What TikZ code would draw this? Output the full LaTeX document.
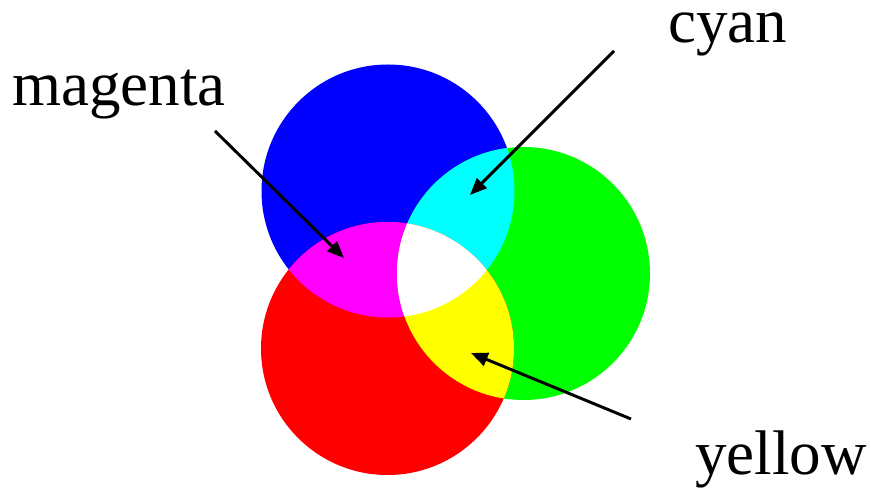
\documentclass[tikz,border=0pt]{standalone}
\usepackage{fontspec}
\setmainfont{Liberation Serif}
\definecolor{PureRed}{RGB}{255,0,0}
\definecolor{PureGreen}{RGB}{0,255,0}
\definecolor{PureBlue}{RGB}{0,0,255}
\definecolor{PureCyan}{RGB}{0,255,255}
\definecolor{PureMagenta}{RGB}{255,0,255}
\definecolor{PureYellow}{RGB}{255,255,0}
\usetikzlibrary{arrows.meta, positioning}

\begin{document}
\begin{tikzpicture}[x=0.025cm, y=-0.025cm,
    label text/.style={inner sep=0pt, font=\fontsize{44.8}{50}\selectfont},
    pointer/.style={line width=2.1pt, -{Triangle[length=0.42cm, width=0.34cm]}}]
  \useasboundingbox (0,0) rectangle (871,491);

  % the three primaries
  \coordinate (blueC)  at (388,191);
  \coordinate (greenC) at (523.5,273.5);
  \coordinate (redC)   at (387.5,348.5);
  \def\rad{126.5}

  \fill[PureBlue]  (blueC)  circle (\rad);
  \fill[PureGreen] (greenC) circle (\rad);
  \fill[PureRed]   (redC)   circle (\rad);

  % pairwise overlaps
  \begin{scope}
    \clip (blueC) circle (\rad);
    \fill[PureCyan] (greenC) circle (\rad);
    \fill[PureMagenta] (redC) circle (\rad);
  \end{scope}
  \begin{scope}
    \clip (greenC) circle (\rad);
    \fill[PureYellow] (redC) circle (\rad);
    \clip (blueC) circle (\rad);
    \fill[white] (redC) circle (\rad);
  \end{scope}

  % labels
  \node[label text, anchor=base west] (magentaLbl) at (12,106) {magenta};
  \node[label text, anchor=base west, text height=1ex] (cyanLbl) at (668,43) {cyan};
  \node[label text, anchor=base west] (yellowLbl)  at (695,475) {yellow};

  \coordinate (magentaTail) at (215,131);
  \coordinate (magentaTip)  at (344,258);
  \coordinate (cyanTail)    at (614,51);
  \coordinate (cyanTip)     at (470,195);
  \coordinate (yellowTail)  at (631,419);
  \coordinate (yellowTip)   at (471,353);

  \draw[pointer] (magentaTail) -- (magentaTip);
  \draw[pointer] (cyanTail) -- (cyanTip);
  \draw[pointer] (yellowTail) -- (yellowTip);
\end{tikzpicture}
\end{document}
